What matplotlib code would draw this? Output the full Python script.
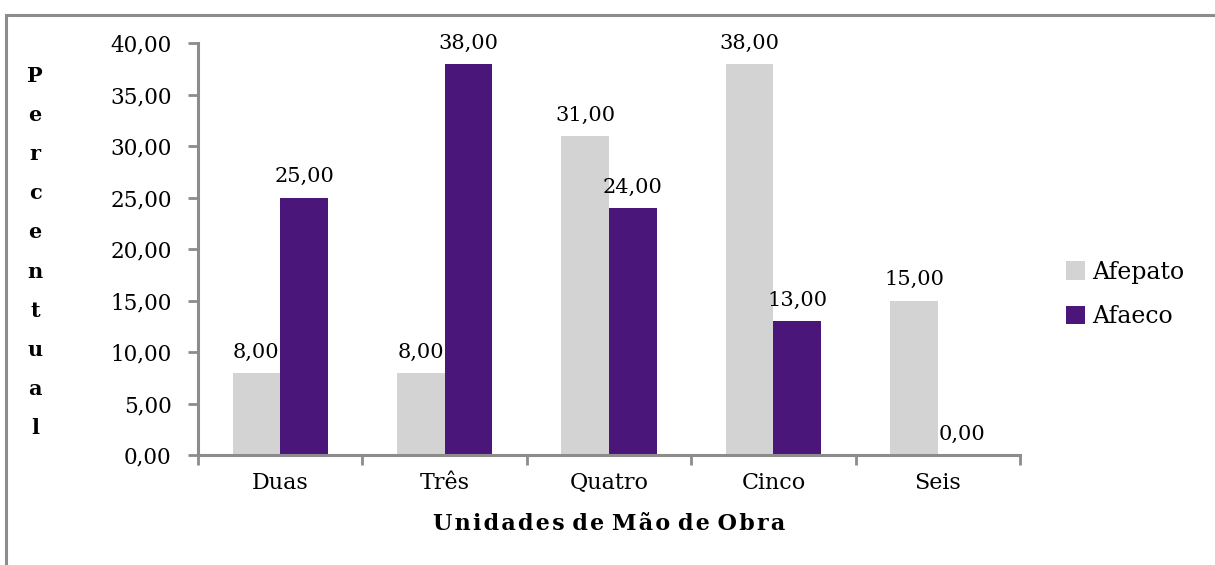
import numpy as np
import matplotlib.pyplot as plt
from matplotlib.patches import Rectangle

categorias = ['Duas', 'Três', 'Quatro', 'Cinco', 'Seis']
afepato = [8.0, 8.0, 31.0, 38.0, 15.0]
afaeco = [25.0, 38.0, 24.0, 13.0, 0.0]
yticks = [0, 5, 10, 15, 20, 25, 30, 35, 40]

fonte = 'DejaVu Serif'
cinza = '#d3d3d3'
roxo = '#4a1679'
eixo = '#8c8c8c'

fig = plt.figure(figsize=(12.15, 5.65), dpi=100)
ax = fig.add_axes([198/1215, 1-455/565, (1020-198)/1215, (455-43)/565])

# moldura externa
fig.patches.append(Rectangle((6/1215, -0.1), 1.2, 1-15/565+0.1, transform=fig.transFigure,
                             fill=False, edgecolor=eixo, linewidth=2.2))

x = np.arange(len(categorias))
w = 0.29
b1 = ax.bar(x - w/2, afepato, w, color=cinza, label='Afepato')
b2 = ax.bar(x + w/2, afaeco, w, color=roxo, label='Afaeco')

def fmt(v):
    return ('%.2f' % v).replace('.', ',')

for bars, vals in ((b1, afepato), (b2, afaeco)):
    for r, v in zip(bars, vals):
        ax.annotate(fmt(v), (r.get_x() + r.get_width()/2, v), xytext=(0, 8),
                    textcoords='offset points', ha='center', va='bottom',
                    fontsize=15, family=fonte)

ax.set_xlim(-0.5, len(categorias) - 0.5)
ax.set_ylim(0, 40)
ax.set_yticks(yticks)
ax.set_yticklabels([fmt(v) for v in yticks], fontsize=15.5, family=fonte)
ax.set_xticks(x)
ax.set_xticklabels(categorias, fontsize=16, family=fonte)
ax.set_xticks(np.arange(len(categorias) + 1) - 0.5, minor=True)
ax.tick_params(axis='x', which='major', length=0, pad=12)
ax.tick_params(axis='x', which='minor', length=7, width=2, color=eixo)
ax.tick_params(axis='y', length=7, width=2, color=eixo, pad=12)

for s in ['top', 'right']:
    ax.spines[s].set_visible(False)
for s in ['left', 'bottom']:
    ax.spines[s].set_color(eixo)
    ax.spines[s].set_linewidth(2.2)

titulo_x = ' '.join('\u200a'.join(p) for p in 'Unidades de Mão de Obra'.split())
ax.set_xlabel(titulo_x, fontsize=16, family=fonte, fontweight='bold', labelpad=14)
fig.text(35/1215, 1-252/565, '\n'.join('Percentual'), ha='center', va='center',
         fontsize=15, family=fonte, fontweight='bold', linespacing=2.2, multialignment='center')

ax.legend(loc='center left', bbox_to_anchor=(1.03, 0.39), frameon=False,
          prop={'family': fonte, 'size': 17}, handlelength=0.8, handleheight=0.8,
          handletextpad=0.3, labelspacing=0.9)

fig.savefig('out.png', dpi=100)
